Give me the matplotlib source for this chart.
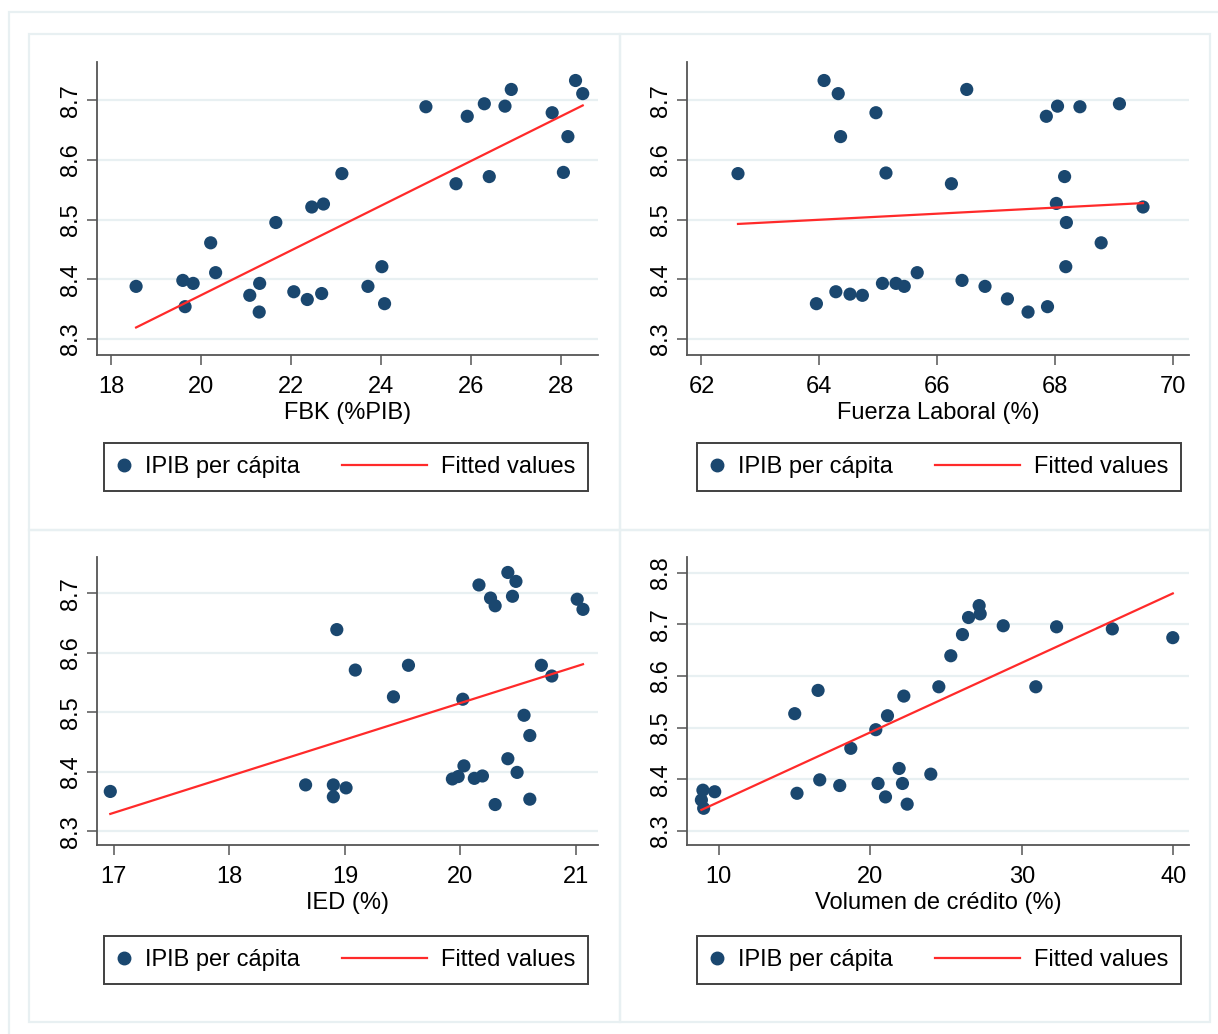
import matplotlib

matplotlib.use("Agg")
import matplotlib.pyplot as plt
import numpy as np
from matplotlib.legend_handler import HandlerLine2D
from matplotlib.lines import Line2D
from matplotlib.patches import Rectangle

plt.rcParams["font.family"] = ["Liberation Sans", "DejaVu Sans"]

# IPIB per capita vs. each regressor
fbk = [18.55, 19.59, 19.82, 19.64, 20.21, 20.32, 21.08, 21.30, 21.29, 21.66, 22.06,
       22.36, 22.46, 22.72, 22.68, 23.13, 23.71, 24.02, 24.08, 25.00, 25.67, 25.92,
       26.30, 26.41, 26.76, 26.90, 27.81, 28.16, 28.06, 28.33, 28.49]
ipib_fbk = [8.388, 8.398, 8.393, 8.354, 8.461, 8.411, 8.373, 8.393, 8.345, 8.495, 8.379,
            8.366, 8.521, 8.526, 8.376, 8.577, 8.388, 8.421, 8.359, 8.689, 8.560, 8.673,
            8.694, 8.572, 8.690, 8.718, 8.679, 8.639, 8.579, 8.733, 8.711]

fuerza = [62.62, 64.08, 64.32, 64.96, 64.36, 65.13, 66.50, 66.24, 67.85, 68.04, 68.42,
          69.09, 68.16, 68.02, 69.49, 68.19, 68.78, 68.18, 63.95, 64.28, 64.52, 64.73,
          65.07, 65.30, 65.44, 65.66, 66.42, 66.81, 67.19, 67.54, 67.87]
ipib_fuerza = [8.577, 8.733, 8.711, 8.679, 8.639, 8.578, 8.718, 8.560, 8.673, 8.690, 8.689,
               8.694, 8.572, 8.527, 8.521, 8.495, 8.461, 8.421, 8.359, 8.379, 8.375, 8.373,
               8.393, 8.393, 8.388, 8.411, 8.398, 8.388, 8.367, 8.345, 8.354]

ied = [16.97, 18.66, 18.90, 18.90, 19.01, 18.93, 19.09, 19.55, 19.42, 20.02, 19.93,
       19.98, 20.03, 20.12, 20.19, 20.30, 20.16, 20.26, 20.30, 20.41, 20.48, 20.45,
       20.41, 20.49, 20.55, 20.60, 20.60, 20.70, 20.79, 21.01, 21.06]
ipib_ied = [8.367, 8.378, 8.378, 8.358, 8.373, 8.639, 8.571, 8.579, 8.526, 8.522, 8.388,
            8.392, 8.410, 8.389, 8.393, 8.345, 8.714, 8.692, 8.679, 8.735, 8.720, 8.695,
            8.422, 8.399, 8.495, 8.461, 8.354, 8.579, 8.561, 8.690, 8.673]

credito = [8.96, 9.74, 8.86, 9.01, 15.02, 16.56, 15.17, 16.67, 17.99, 18.72, 20.37,
           21.14, 20.52, 21.01, 21.91, 22.13, 22.44, 22.22, 24.00, 24.53, 25.32, 26.09,
           26.49, 27.19, 27.26, 28.78, 32.30, 30.93, 35.98, 39.97]
ipib_credito = [8.379, 8.376, 8.360, 8.344, 8.527, 8.572, 8.373, 8.399, 8.388, 8.460, 8.496,
                8.523, 8.392, 8.366, 8.421, 8.392, 8.352, 8.561, 8.410, 8.579, 8.639, 8.680,
                8.713, 8.736, 8.720, 8.697, 8.695, 8.579, 8.691, 8.674]

panels = [
    (fbk, ipib_fbk, "FBK (%PIB)", [18, 20, 22, 24, 26, 28], (17.68, 28.83),
     [8.3, 8.4, 8.5, 8.6, 8.7], (8.273, 8.764)),
    (fuerza, ipib_fuerza, "Fuerza Laboral (%)", [62, 64, 66, 68, 70], (61.755, 70.27),
     [8.3, 8.4, 8.5, 8.6, 8.7], (8.273, 8.764)),
    (ied, ipib_ied, "IED (%)", [17, 18, 19, 20, 21], (16.855, 21.19),
     [8.3, 8.4, 8.5, 8.6, 8.7], (8.277, 8.761)),
    (credito, ipib_credito, "Volumen de crédito (%)", [10, 20, 30, 40], (7.91, 41.04),
     [8.3, 8.4, 8.5, 8.6, 8.7, 8.8], (8.273, 8.830)),
]

W, H = 1218, 1034
NAVY = "#1a476f"
RED = "#ff2a2a"
GRID = "#e8f0f2"
SPINE = "#555555"


class LongLine(HandlerLine2D):
    # line handle that reaches further left than the (short) handle box
    def create_artists(self, legend, orig_handle, xdescent, ydescent, width, height,
                       fontsize, trans):
        extra = 3.0 * fontsize
        return super().create_artists(legend, orig_handle, xdescent + extra, ydescent,
                                      width + extra, height, fontsize, trans)


def px_box(x0, y0, x1, y1):
    return [x0 / W, 1 - y1 / H, (x1 - x0) / W, (y1 - y0) / H]


fig = plt.figure(figsize=(W / 100, H / 100), dpi=100)
fig.patch.set_facecolor("white")

# faint outer and panel frames
for (x0, y0, x1, y1) in [(9, 12, 1230, 1040), (29, 34, 620, 530), (620, 34, 1210, 530),
                         (29, 530, 620, 1022), (620, 530, 1210, 1022)]:
    fig.add_artist(Rectangle((x0 / W, 1 - y1 / H), (x1 - x0) / W, (y1 - y0) / H,
                             transform=fig.transFigure, fill=False, ec=GRID, lw=1.6))

axes_px = [(97, 62, 598, 355), (687, 62, 1189, 355), (97, 557, 598, 845), (687, 557, 1189, 845)]
legend_px = [(104, 443), (697, 443), (104, 936), (697, 936)]

for (xs, ys, xlabel, xticks, xlim, yticks, ylim), (l, t, r, b), (lx, ly) in zip(
        panels, axes_px, legend_px):
    ax = fig.add_axes(px_box(l, t, r, b))
    xs = np.array(xs)
    ys = np.array(ys)
    ax.scatter(xs, ys, s=90, color=NAVY, edgecolors="none", zorder=3)
    slope, icpt = np.polyfit(xs, ys, 1)
    xf = np.array([xs.min(), xs.max()])
    ax.plot(xf, icpt + slope * xf, color=RED, lw=1.6, zorder=4)

    ax.set_xlim(xlim)
    ax.set_ylim(ylim)
    ax.set_xticks(xticks)
    ax.set_yticks(yticks)
    ax.set_yticklabels([f"{v:.1f}" for v in yticks], rotation=90, va="center")
    ax.grid(axis="y", color=GRID, lw=1.6)
    ax.set_axisbelow(True)
    for side in ["top", "right"]:
        ax.spines[side].set_visible(False)
    for side in ["left", "bottom"]:
        ax.spines[side].set_color(SPINE)
        ax.spines[side].set_linewidth(1.3)
    ax.tick_params(axis="both", length=7, width=1.1, color=SPINE, labelsize=17)
    ax.tick_params(axis="x", pad=8)
    ax.tick_params(axis="y", pad=4)
    ax.set_xlabel(xlabel, fontsize=17, labelpad=3)

    h_pts = Line2D([], [], ls="none", marker="o", ms=9, color=NAVY, label="IPIB per cápita")
    h_fit = Line2D([], [], color=RED, lw=1.6, label="Fitted values")
    leg = ax.legend(handles=[h_pts, h_fit], handler_map={h_fit: LongLine()}, ncol=2,
                    loc="upper left", bbox_to_anchor=(lx / W, 1 - ly / H),
                    bbox_transform=fig.transFigure, borderaxespad=0, fontsize=17,
                    handlelength=0.6, handletextpad=0.6, columnspacing=4.75,
                    borderpad=0.55, fancybox=False, framealpha=1, numpoints=1)
    leg.get_frame().set_edgecolor("#404040")
    leg.get_frame().set_linewidth(1.4)

fig.savefig("out.png", dpi=100)
